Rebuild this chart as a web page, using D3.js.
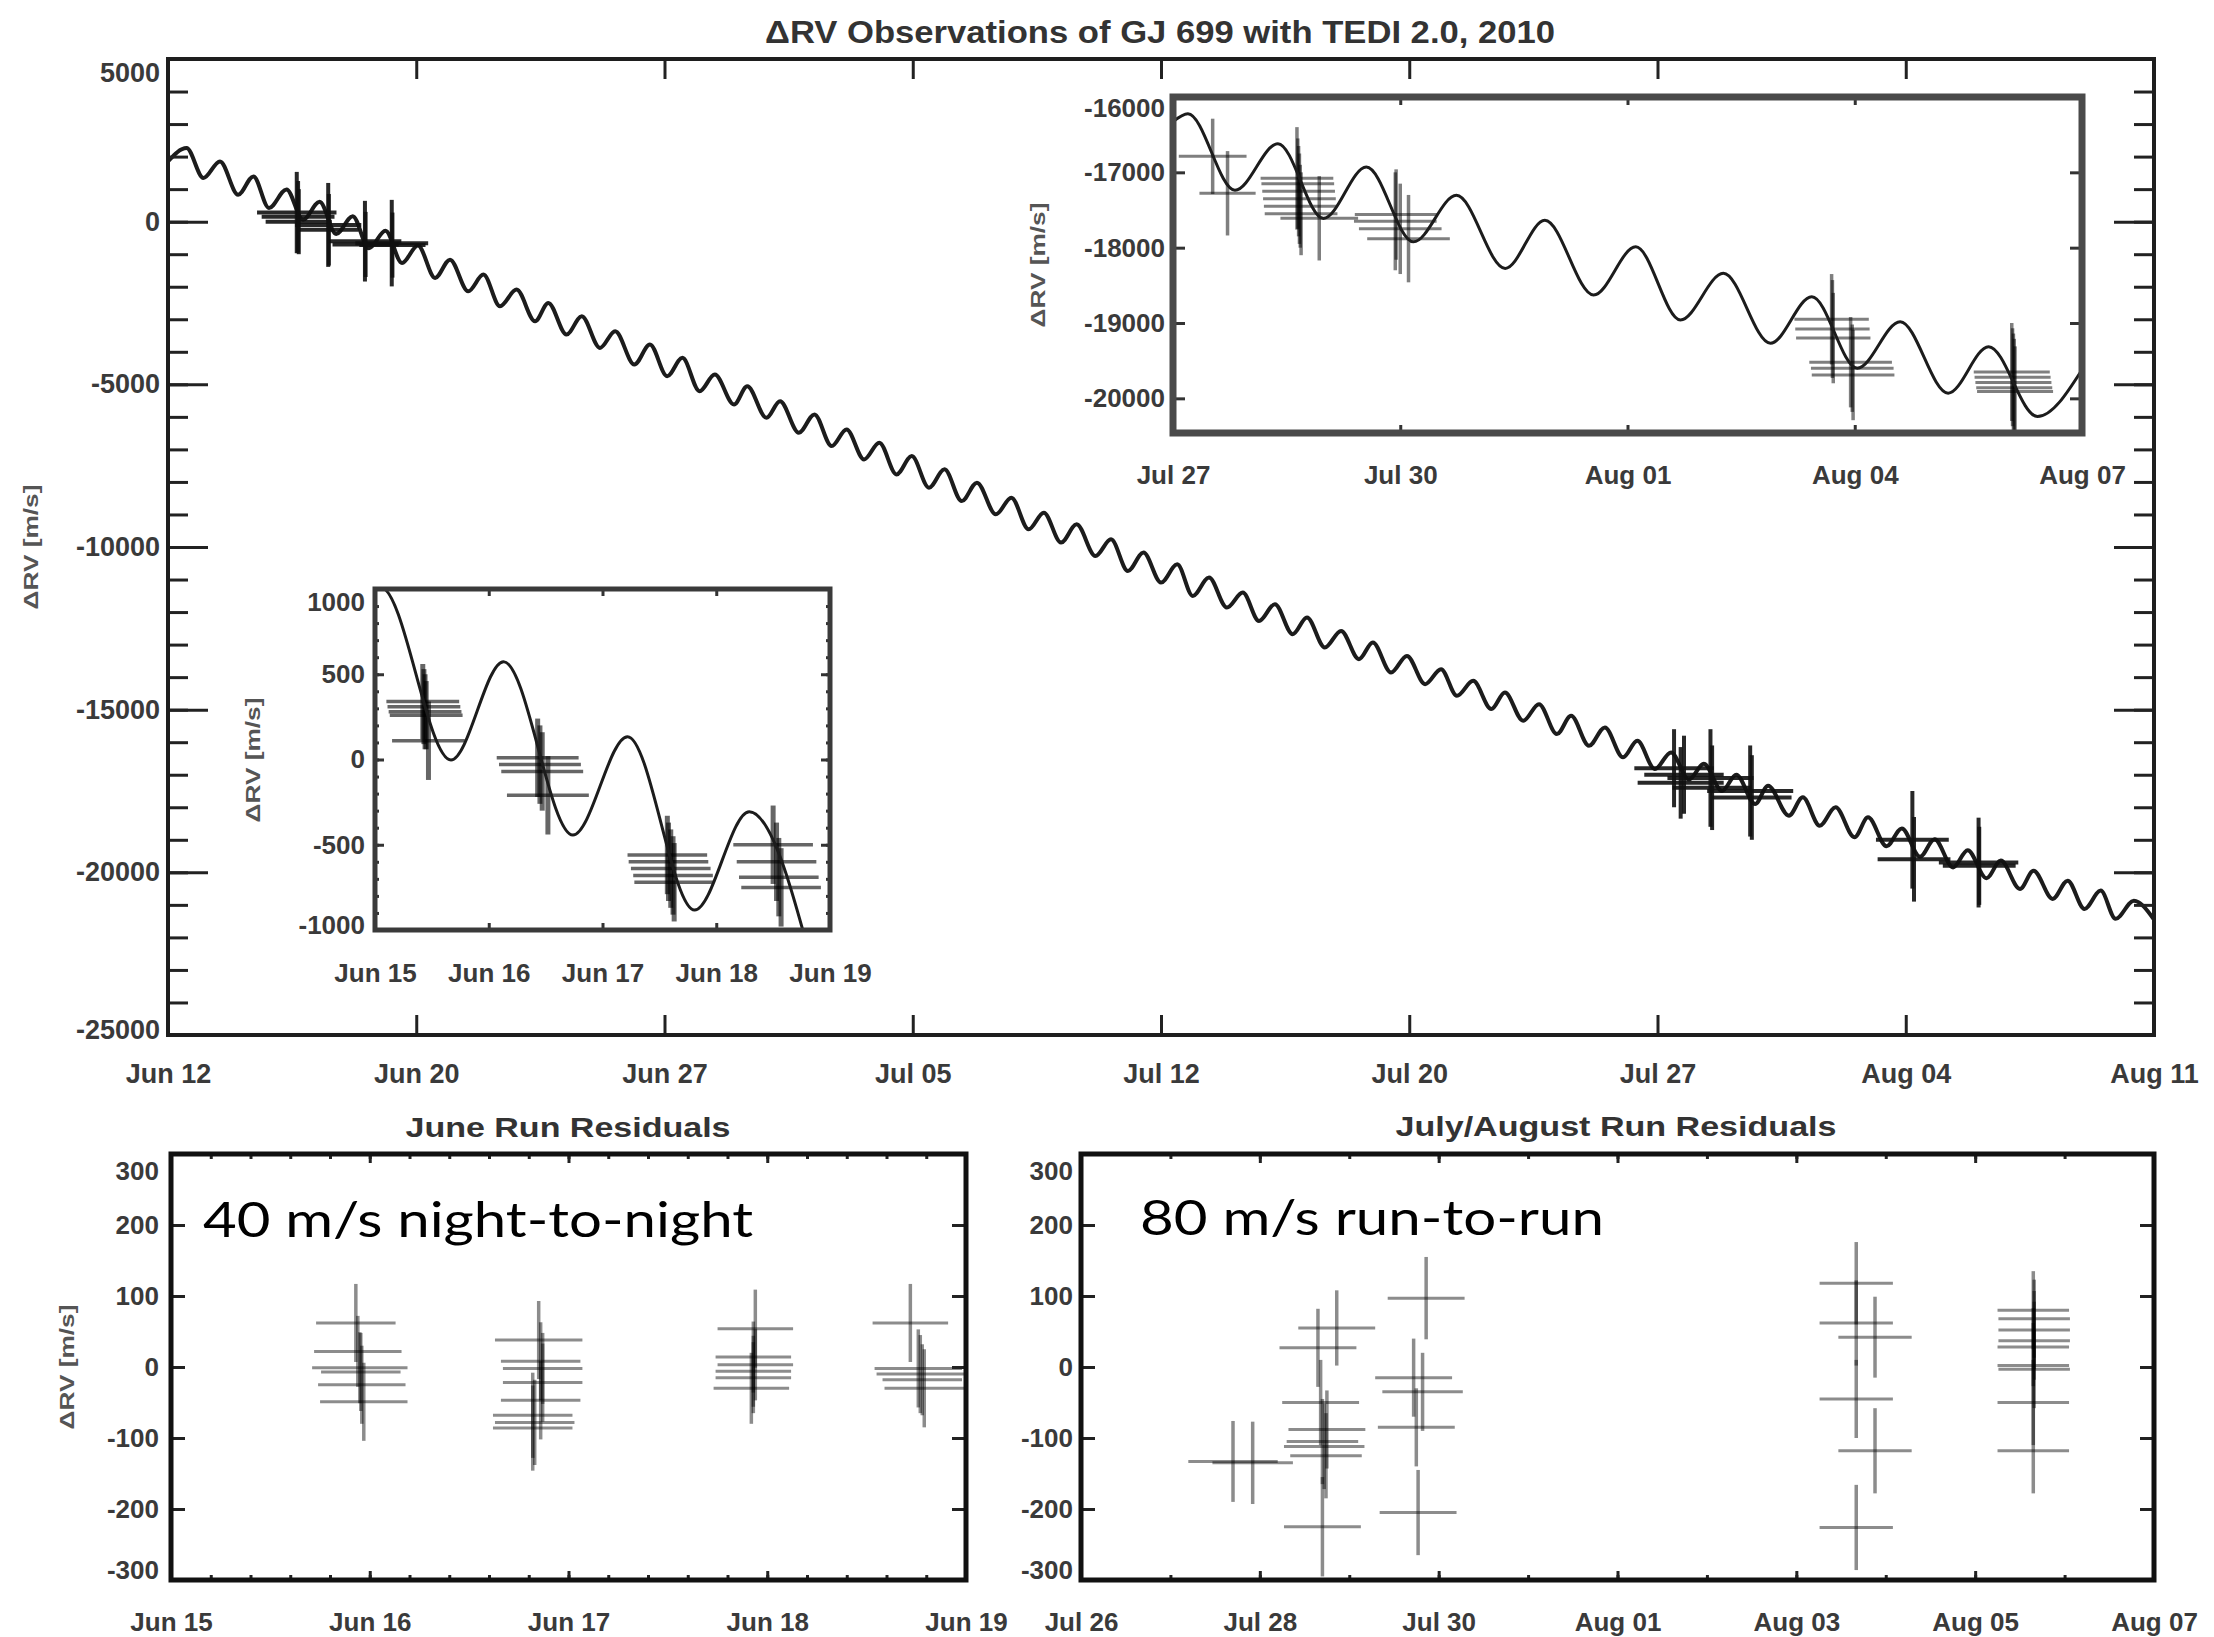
<!DOCTYPE html>
<html>
<head>
<meta charset="utf-8">
<script src="https://cdn.jsdelivr.net/npm/d3@7"></script>
<style>
  body { margin: 0; background: #fff; }
</style>
</head>
<body>
<script>
// ---- main panel: fitted curve (days since Jun 12, ΔRV in m/s), read at its turning points ----
const mainModelDay = [0, 0.56, 1.07, 1.57, 2.12, 2.58, 3.05, 3.58, 4.08, 4.58, 5.08, 5.58, 6.07, 6.57, 7.07, 7.55,
  8.07, 8.52, 9.07, 9.53, 10.03, 10.53, 11.09, 11.49, 12.04, 12.5, 13.05, 13.51, 14.09, 14.56, 15.08, 15.54,
  16.06, 16.52, 17.10, 17.5, 18.08, 18.49, 19.06, 19.53, 20.05, 20.5, 21.03, 21.49, 22.01, 22.47, 22.99, 23.46,
  23.98, 24.44, 25.01, 25.48, 26.0, 26.46, 26.98, 27.45, 28.02, 28.49, 29.0, 29.47, 30.0, 30.49, 30.96, 31.45,
  31.99, 32.47, 32.96, 33.44, 33.98, 34.41, 34.95, 35.44, 35.98, 36.4, 36.95, 37.43, 37.98, 38.46, 38.94, 39.43,
  39.98, 40.39, 40.94, 41.42, 41.96, 42.39, 42.93, 43.41, 43.96, 44.39, 44.92, 45.41, 45.95, 46.40, 46.95, 47.38,
  47.95, 48.34, 48.97, 49.39, 49.9, 50.38, 50.95, 51.36, 51.92, 52.38, 52.93, 53.37, 53.93, 54.37, 54.94, 55.37,
  55.95, 56.36, 56.94, 57.39, 57.9, 58.39, 58.84, 59.39, 60];
const mainModelRV = [1850, 2263, 1342, 1851, 829, 1391, 420, 990, 60, 610, -380, 170, -820, -280, -1270, -730,
  -1729, -1167, -2140, -1627, -2600, -2088, -3061, -2497, -3469, -2907, -3880, -3368, -4391, -3776, -4750, -4185,
  -5210, -4698, -5619, -5057, -6028, -5517, -6488, -5926, -6898, -6386, -7307, -6796, -7768, -7205, -8177, -7614,
  -8588, -8023, -8996, -8484, -9457, -8944, -9865, -9303, -10276, -9764, -10737, -10172, -11093, -10531, -11505, -10940,
  -11861, -11400, -12272, -11759, -12680, -12168, -13089, -12579, -13448, -12935, -13857, -13347, -14216, -13755, -14574, -14114,
  -14983, -14471, -15342, -14830, -15751, -15189, -16110, -15545, -16466, -15956, -16825, -16313, -17150, -16660, -17500, -17000,
  -17900, -17338, -18259, -17694, -18566, -18001, -18923, -18309, -19200, -18650, -19520, -18980, -19850, -19320, -20180, -19640,
  -20510, -19948, -20817, -20255, -21124, -20562, -21430, -20870, -21450];
// observations: [day, ΔRV, day error, ΔRV error]
const mainObs = [
  [3.89, 280, 1.2, 1250], [3.93, 150, 1.1, 1100], [3.95, 0, 1.0, 1000],
  [4.84, -100, 1.0, 1290], [4.86, -250, 0.9, 1100],
  [5.95, -600, 1.1, 1240], [5.97, -700, 1.0, 1000],
  [6.76, -660, 1.1, 1330], [6.78, -720, 1.0, 1000],
  [45.5, -16800, 1.2, 1200], [45.7, -17250, 1.3, 1100], [45.8, -17000, 1.2, 1200], [46.6, -17100, 1.3, 1500],
  [46.65, -17400, 1.2, 1300], [47.8, -17500, 1.3, 1400], [47.85, -17700, 1.2, 1300],
  [52.7, -19000, 1.1, 1500], [52.75, -19600, 1.1, 1300], [54.7, -19700, 1.2, 1380], [54.72, -19800, 1.1, 1200]
];
const mainXTicks = [0, 7.5, 15, 22.5, 30, 37.5, 45, 52.5, 60];
const mainXLabels = ['Jun 12', 'Jun 20', 'Jun 27', 'Jul 05', 'Jul 12', 'Jul 20', 'Jul 27', 'Aug 04', 'Aug 11'];
const mainYTicks = [5000, 0, -5000, -10000, -15000, -20000, -25000];

// ---- July/August inset (days since Jul 27) ----
const julyModelDay = [0, 0.18, 0.75, 1.27, 1.82, 2.34, 2.91, 3.43, 4.02, 4.50, 5.09, 5.6,
  6.14, 6.66, 7.23, 7.73, 8.28, 8.80, 9.38, 9.87, 10.46, 11.0];
const julyModelRV = [-16330, -16223, -17238, -16620, -17613, -16930, -17923, -17305, -18275, -17636, -18629, -17989,
  -18960, -18341, -19269, -18652, -19600, -18983, -19931, -19314, -20241, -19620];
const julyObs = [
  [0.48, -16788, 0.41, 500], [0.66, -17278, 0.34, 560],
  [1.50, -17080, 0.44, 680], [1.51, -17150, 0.44, 600], [1.52, -17250, 0.44, 600], [1.53, -17350, 0.44, 600],
  [1.54, -17450, 0.44, 550], [1.55, -17550, 0.44, 550], [1.77, -17610, 0.47, 560],
  [2.69, -17650, 0.5, 650], [2.70, -17560, 0.5, 600], [2.75, -17750, 0.5, 600], [2.85, -17880, 0.5, 580],
  [7.97, -18950, 0.45, 600], [7.98, -19080, 0.45, 650], [7.99, -19200, 0.45, 600],
  [8.20, -19520, 0.5, 600], [8.22, -19600, 0.5, 580], [8.23, -19690, 0.5, 600],
  [10.15, -19650, 0.46, 650], [10.16, -19720, 0.46, 650], [10.17, -19790, 0.46, 650],
  [10.18, -19860, 0.46, 650], [10.19, -19910, 0.46, 600]
];
const julyXTicks = [0, 2.75, 5.5, 8.25, 11];
const julyXLabels = ['Jul 27', 'Jul 30', 'Aug 01', 'Aug 04', 'Aug 07'];
const julyYTicks = [-16000, -17000, -18000, -19000, -20000];

// ---- June inset (days since Jun 15) ----
const juneModelDay = [0, 0.05, 0.668, 1.13, 1.74, 2.22, 2.81, 3.29, 3.89];
const juneModelRV = [1000, 1010, -3, 574, -443, 134, -883, -306, -1320];
const juneObs = [
  [0.42, 340, 0.32, 220], [0.43, 310, 0.32, 220], [0.44, 280, 0.32, 220], [0.45, 260, 0.32, 200], [0.47, 110, 0.32, 230],
  [1.43, 10, 0.36, 230], [1.45, -30, 0.36, 230], [1.47, -70, 0.36, 230], [1.52, -210, 0.36, 230],
  [2.57, -560, 0.35, 230], [2.58, -600, 0.35, 230], [2.60, -640, 0.35, 230], [2.62, -680, 0.35, 230], [2.63, -720, 0.35, 230],
  [3.50, -500, 0.35, 230], [3.53, -600, 0.35, 230], [3.55, -690, 0.35, 230], [3.57, -750, 0.35, 230]
];
const juneXTicks = [0, 1, 2, 3, 4];
const juneXLabels = ['Jun 15', 'Jun 16', 'Jun 17', 'Jun 18', 'Jun 19'];
const juneYTicks = [1000, 500, 0, -500, -1000];

// ---- residual panels: [day, residual, day error, residual error] ----
const juneResid = [
  [0.93, 62, 0.2, 55], [0.94, 22, 0.22, 50], [0.95, -1, 0.24, 50], [0.955, -7, 0.2, 55], [0.96, -25, 0.22, 55], [0.97, -49, 0.22, 55],
  [1.85, 38, 0.22, 55], [1.86, 8, 0.2, 55], [1.87, -2, 0.2, 50], [1.87, -22, 0.2, 55], [1.86, -47, 0.2, 55],
  [1.82, -68, 0.2, 60], [1.83, -78, 0.2, 60], [1.82, -86, 0.2, 60],
  [2.94, 54, 0.19, 55], [2.93, 14, 0.19, 50], [2.94, 3, 0.19, 50], [2.93, -6, 0.19, 50], [2.93, -15, 0.19, 50], [2.92, -30, 0.19, 50],
  [3.72, 62, 0.19, 55], [3.76, -2, 0.22, 55], [3.77, -10, 0.22, 55], [3.78, -18, 0.2, 50], [3.79, -30, 0.2, 55]
];
const julyResid = [
  [1.70, -133, 0.5, 57], [1.92, -135, 0.45, 58],
  [2.86, 55, 0.43, 53], [2.65, 27, 0.43, 55], [2.68, -50, 0.43, 60], [2.75, -88, 0.43, 55], [2.70, -105, 0.4, 60],
  [2.72, -112, 0.45, 60], [2.74, -125, 0.4, 60], [2.70, -225, 0.43, 70],
  [3.86, 97, 0.43, 58], [3.72, -15, 0.43, 55], [3.82, -35, 0.45, 55], [3.75, -85, 0.43, 55], [3.77, -205, 0.43, 60],
  [8.67, 118, 0.41, 58], [8.67, 62, 0.41, 60], [8.88, 42, 0.41, 57], [8.67, -45, 0.41, 55], [8.88, -118, 0.41, 60], [8.67, -226, 0.41, 60],
  [10.65, 80, 0.4, 55], [10.66, 68, 0.4, 55], [10.66, 52, 0.4, 55], [10.66, 37, 0.4, 55], [10.65, 28, 0.4, 55],
  [10.65, 2, 0.4, 60], [10.66, -3, 0.4, 55], [10.65, -50, 0.4, 60], [10.65, -118, 0.4, 60]
];
const residYTicks = [300, 200, 100, 0, -100, -200, -300];
const julyResXTicks = [0, 2, 4, 6, 8, 10, 12];
const julyResXLabels = ['Jul 26', 'Jul 28', 'Jul 30', 'Aug 01', 'Aug 03', 'Aug 05', 'Aug 07'];

const W = 2214, H = 1637;
const FONT = '"Liberation Sans", Arial, Helvetica, sans-serif';

const svg = d3.select('body').append('svg')
  .attr('width', W).attr('height', H).style('display', 'block');
svg.append('rect').attr('width', W).attr('height', H).attr('fill', '#fff');

let clipCount = 0;
function makePanel(box, xDomain, yDomain) {
  const x = d3.scaleLinear().domain(xDomain).range([box.left, box.right]);
  const y = d3.scaleLinear().domain(yDomain).range([box.bottom, box.top]);
  const w = box.right - box.left, h = box.bottom - box.top;
  const id = 'clip' + clipCount++;
  svg.append('clipPath').attr('id', id)
    .append('rect').attr('x', box.left).attr('y', box.top).attr('width', w).attr('height', h);
  const g = svg.append('g');
  g.append('rect').attr('x', box.left).attr('y', box.top).attr('width', w).attr('height', h).attr('fill', '#fff');
  const plot = g.append('g').attr('clip-path', `url(#${id})`);
  return {box, x, y, g, plot};
}

function drawAxes(p, o) {
  const {box, x, y, g} = p;
  const [yMin, yMax] = d3.extent(y.domain());
  const ticks = sel => sel
    .call(s => s.select('.domain').remove())
    .call(s => s.selectAll('.tick line').attr('stroke', o.color).attr('stroke-width', o.tickWidth));
  const labels = sel => sel.selectAll('.tick text')
    .attr('font-family', FONT).attr('font-weight', 'bold')
    .attr('font-size', o.fontSize).attr('fill', '#3a3a3a');

  if (o.yMinor) {
    g.append('g').attr('transform', `translate(${box.left},0)`)
      .call(d3.axisLeft(y).tickValues(o.yMinor).tickSize(-o.yMinorLen).tickFormat(''))
      .call(ticks);
    g.append('g').attr('transform', `translate(${box.right},0)`)
      .call(d3.axisRight(y).tickValues(o.yMinor).tickSize(-o.yMinorLen).tickFormat(''))
      .call(ticks);
  }
  if (o.xMinor) {
    g.append('g').attr('transform', `translate(0,${box.bottom})`)
      .call(d3.axisBottom(x).tickValues(o.xMinor).tickSize(-o.xMinorLen).tickFormat(''))
      .call(ticks);
    g.append('g').attr('transform', `translate(0,${box.top})`)
      .call(d3.axisTop(x).tickValues(o.xMinor).tickSize(-o.xMinorLen).tickFormat(''))
      .call(ticks);
  }

  g.append('g').attr('transform', `translate(${box.left},0)`)
    .call(d3.axisLeft(y).tickValues(o.yTicks).tickSize(-o.yLen).tickPadding(o.yPad).tickFormat(d => String(d)))
    .call(ticks).call(labels)
    .call(s => s.selectAll('.tick text')
      .attr('y', d => d === yMax ? o.edge[0] : d === yMin ? o.edge[1] : 0));
  g.append('g').attr('transform', `translate(${box.right},0)`)
    .call(d3.axisRight(y).tickValues(o.yTicks).tickSize(-o.yLen).tickFormat(''))
    .call(ticks);

  g.append('g').attr('transform', `translate(0,${box.bottom})`)
    .call(d3.axisBottom(x).tickValues(o.xTicks).tickSize(-o.xLen).tickFormat((d, i) => o.xLabels[i]))
    .call(ticks).call(labels)
    .call(s => s.selectAll('.tick text').attr('y', o.xLabelOffset).attr('dy', '0.35em'));
  g.append('g').attr('transform', `translate(0,${box.top})`)
    .call(d3.axisTop(x).tickValues(o.xTicks).tickSize(-o.xLen).tickFormat(''))
    .call(ticks);

  g.append('rect')
    .attr('x', box.left).attr('y', box.top)
    .attr('width', box.right - box.left).attr('height', box.bottom - box.top)
    .attr('fill', 'none').attr('stroke', o.frameColor).attr('stroke-width', o.frameWidth);
}

function drawModel(p, days, rv, width) {
  const line = d3.line()
    .x(d => p.x(d[0])).y(d => p.y(d[1]))
    .curve(d3.curveMonotoneX);
  p.plot.append('path')
    .datum(d3.zip(days, rv))
    .attr('d', line)
    .attr('fill', 'none')
    .attr('stroke', '#1c1c1c')
    .attr('stroke-width', width)
    .attr('stroke-linejoin', 'round');
}

function drawCrosses(p, data, style) {
  const grp = p.plot.append('g')
    .attr('stroke', style.color)
    .attr('stroke-opacity', style.opacity);
  grp.selectAll('line.h').data(data).join('line').attr('class', 'h')
    .attr('stroke-width', style.width)
    .attr('x1', d => p.x(d[0] - d[2])).attr('x2', d => p.x(d[0] + d[2]))
    .attr('y1', d => p.y(d[1])).attr('y2', d => p.y(d[1]));
  grp.selectAll('line.v').data(data).join('line').attr('class', 'v')
    .attr('stroke-width', style.vWidth || style.width)
    .attr('x1', d => p.x(d[0])).attr('x2', d => p.x(d[0]))
    .attr('y1', d => p.y(d[1] - d[3])).attr('y2', d => p.y(d[1] + d[3]));
}

function yTitle(cx, cy) {
  svg.append('text')
    .attr('transform', `translate(${cx},${cy}) rotate(-90)`)
    .attr('text-anchor', 'middle').attr('dy', '0.35em')
    .attr('font-family', FONT).attr('font-weight', 'bold')
    .attr('font-size', 21).attr('fill', '#555')
    .attr('textLength', 125).attr('lengthAdjust', 'spacingAndGlyphs')
    .text('ΔRV [m/s]');
}

function boldText(cx, baseline, size, len, str) {
  svg.append('text')
    .attr('x', cx).attr('y', baseline)
    .attr('text-anchor', 'middle')
    .attr('font-family', FONT).attr('font-weight', 'bold')
    .attr('font-size', size).attr('fill', '#333')
    .attr('textLength', len).attr('lengthAdjust', 'spacingAndGlyphs')
    .text(str);
}

// Main panel
const main = makePanel({left: 168, right: 2154, top: 59, bottom: 1035}, [0, 60], [-25000, 5000]);
drawModel(main, mainModelDay, mainModelRV, 4);
drawCrosses(main, mainObs, {color: '#111', width: 4, opacity: 0.9});
drawAxes(main, {
  yTicks: mainYTicks, yMinor: main.y.ticks(30), yLen: 40, yMinorLen: 20, yPad: 8,
  xTicks: mainXTicks, xLabels: mainXLabels, xLen: 20, xLabelOffset: 39,
  tickWidth: 3, color: '#222', fontSize: 27, edge: [14, -5],
  frameColor: '#1e1e1e', frameWidth: 4
});
yTitle(31, 547);
boldText(1160, 43, 32, 790, 'ΔRV Observations of GJ 699 with TEDI 2.0, 2010');

// July/August inset
const july = makePanel({left: 1173, right: 2082, top: 97, bottom: 433}, [0, 11], [-20460, -16000]);
drawCrosses(july, julyObs, {color: '#000', width: 3, vWidth: 3.5, opacity: 0.5});
drawModel(july, julyModelDay, julyModelRV, 3);
drawAxes(july, {
  yTicks: julyYTicks, yLen: 12, yPad: 8,
  xTicks: julyXTicks, xLabels: julyXLabels, xLen: 8, xLabelOffset: 42,
  tickWidth: 3, color: '#333', fontSize: 26, edge: [11, 0],
  frameColor: '#4a4a4a', frameWidth: 7
});
yTitle(1038, 265);

// June inset
const june = makePanel({left: 375, right: 830, top: 589, bottom: 930}, [0, 4], [-1000, 1000]);
drawCrosses(june, juneObs, {color: '#000', width: 3.5, vWidth: 5, opacity: 0.6});
drawModel(june, juneModelDay, juneModelRV, 3);
drawAxes(june, {
  yTicks: juneYTicks, yMinor: june.y.ticks(20), yLen: 9, yMinorLen: 4, yPad: 10,
  xTicks: juneXTicks, xLabels: juneXLabels, xLen: 7, xLabelOffset: 43,
  tickWidth: 3, color: '#333', fontSize: 26, edge: [13, -5],
  frameColor: '#3a3a3a', frameWidth: 5
});
yTitle(253, 760);

// June residuals
const juneRes = makePanel({left: 171, right: 966, top: 1154, bottom: 1580}, [0, 4], [-300, 300]);
drawCrosses(juneRes, juneResid, {color: '#000', width: 3, vWidth: 3.5, opacity: 0.45});
drawAxes(juneRes, {
  yTicks: residYTicks, yLen: 14, yPad: 12,
  xTicks: juneXTicks, xLabels: juneXLabels, xMinor: juneRes.x.ticks(20), xLen: 9, xMinorLen: 5, xLabelOffset: 42,
  tickWidth: 3, color: '#222', fontSize: 26, edge: [17, -10],
  frameColor: '#111', frameWidth: 5
});
yTitle(67, 1367);
boldText(568, 1137, 28, 325, 'June Run Residuals');

// July/August residuals
const julyRes = makePanel({left: 1081, right: 2154, top: 1154, bottom: 1580}, [0, 12], [-300, 300]);
drawCrosses(julyRes, julyResid, {color: '#000', width: 3, vWidth: 3.5, opacity: 0.45});
drawAxes(julyRes, {
  yTicks: residYTicks, yLen: 14, yPad: 8,
  xTicks: julyResXTicks, xLabels: julyResXLabels, xMinor: julyRes.x.ticks(12), xLen: 9, xMinorLen: 5, xLabelOffset: 42,
  tickWidth: 3, color: '#222', fontSize: 26, edge: [17, -10],
  frameColor: '#111', frameWidth: 5
});
boldText(1616, 1136, 28, 441, 'July/August Run Residuals');

// Annotations laid over the residual panels
svg.append('text')
  .attr('x', 203).attr('y', 1237)
  .attr('font-family', 'Lato, "Open Sans", sans-serif').attr('font-size', 48).attr('fill', '#000')
  .attr('textLength', 550).attr('lengthAdjust', 'spacingAndGlyphs')
  .text('40 m/s night-to-night');
svg.append('text')
  .attr('x', 1140).attr('y', 1235)
  .attr('font-family', 'Lato, "Open Sans", sans-serif').attr('font-size', 48).attr('fill', '#000')
  .attr('textLength', 464).attr('lengthAdjust', 'spacingAndGlyphs')
  .text('80 m/s run-to-run');
</script>
</body>
</html>
